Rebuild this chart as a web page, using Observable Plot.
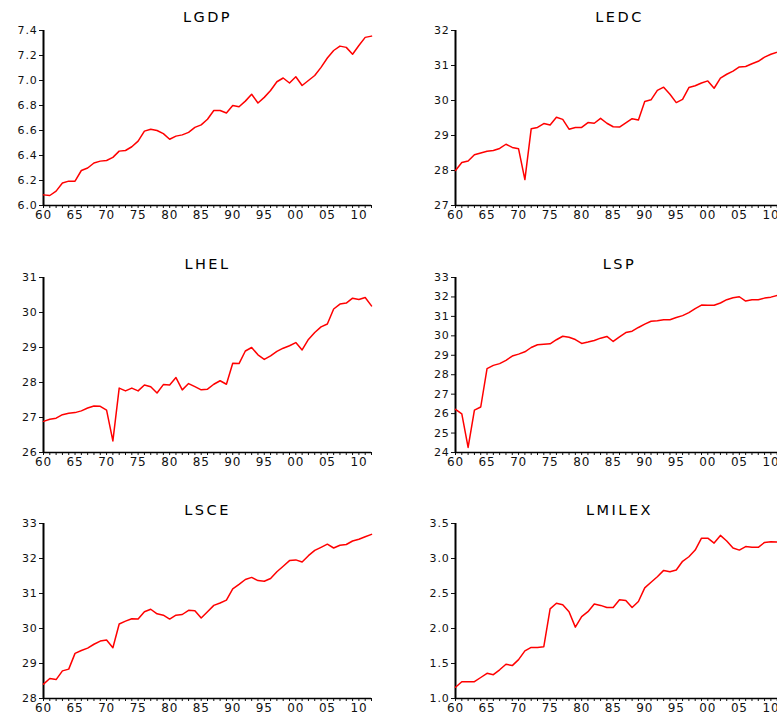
<!DOCTYPE html>
<html>
<head>
<meta charset="utf-8">
<script src="https://cdn.jsdelivr.net/npm/d3@7"></script>
<script src="https://cdn.jsdelivr.net/npm/@observablehq/plot@0.6"></script>
<style>
  html, body { margin: 0; padding: 0; background: #fff; }
  #wrap { position: relative; width: 777px; height: 719px; overflow: hidden; background: #fff; }
  .panel { position: absolute; }
  .panel svg { max-width: none !important; }
</style>
</head>
<body>
<div id="wrap"></div>
<script>
const years = d3.range(1960, 2013);

const lgdp = [6.085,6.08,6.115,6.18,6.195,6.195,6.28,6.30,6.34,6.355,6.36,6.385,6.435,6.44,6.47,6.515,6.595,6.61,6.60,6.575,6.53,6.555,6.565,6.585,6.625,6.645,6.69,6.76,6.76,6.74,6.80,6.79,6.835,6.89,6.82,6.865,6.92,6.99,7.02,6.98,7.03,6.96,7.00,7.04,7.105,7.18,7.24,7.275,7.265,7.21,7.28,7.345,7.355];

const ledc = [28.0,28.23,28.27,28.45,28.50,28.55,28.57,28.63,28.75,28.66,28.62,27.74,29.19,29.23,29.34,29.30,29.52,29.46,29.18,29.23,29.23,29.37,29.35,29.49,29.35,29.25,29.24,29.36,29.48,29.44,29.97,30.02,30.29,30.38,30.18,29.94,30.03,30.37,30.42,30.50,30.56,30.35,30.64,30.75,30.84,30.96,30.97,31.05,31.12,31.24,31.32,31.38,31.45];

const lhel = [26.89,26.95,26.98,27.08,27.12,27.14,27.19,27.27,27.33,27.32,27.21,26.33,27.84,27.76,27.84,27.76,27.93,27.88,27.70,27.94,27.93,28.14,27.79,27.97,27.88,27.79,27.81,27.95,28.05,27.95,28.55,28.54,28.90,29.00,28.79,28.66,28.76,28.89,28.98,29.05,29.14,28.93,29.23,29.43,29.59,29.67,30.10,30.24,30.27,30.41,30.37,30.43,30.19];

const lsp = [26.22,25.99,24.26,26.18,26.34,28.31,28.48,28.57,28.74,28.96,29.06,29.18,29.40,29.54,29.57,29.59,29.80,29.98,29.93,29.81,29.61,29.68,29.76,29.88,29.97,29.71,29.95,30.17,30.24,30.43,30.60,30.75,30.78,30.83,30.83,30.94,31.04,31.19,31.40,31.58,31.57,31.57,31.69,31.86,31.96,32.01,31.79,31.86,31.86,31.94,31.99,32.08,32.12];

const lsce = [28.41,28.57,28.54,28.79,28.84,29.29,29.37,29.44,29.55,29.64,29.67,29.45,30.13,30.21,30.28,30.27,30.48,30.55,30.42,30.38,30.27,30.38,30.40,30.52,30.51,30.30,30.48,30.66,30.73,30.81,31.13,31.26,31.40,31.46,31.37,31.35,31.43,31.62,31.78,31.94,31.96,31.90,32.08,32.23,32.32,32.41,32.30,32.38,32.40,32.50,32.55,32.62,32.69];

const lmilex = [1.16,1.24,1.24,1.24,1.30,1.36,1.34,1.41,1.49,1.47,1.555,1.68,1.73,1.73,1.74,2.28,2.36,2.34,2.24,2.02,2.17,2.24,2.35,2.33,2.30,2.30,2.41,2.40,2.30,2.385,2.58,2.66,2.74,2.83,2.81,2.835,2.96,3.025,3.12,3.29,3.29,3.22,3.33,3.25,3.15,3.12,3.17,3.16,3.16,3.23,3.24,3.235,3.24];

const titles = ["LGDP","LEDC","LHEL","LSP","LSCE","LMILEX"];
const seriesList = [lgdp, ledc, lhel, lsp, lsce, lmilex];
const domains = [[6.0,7.4],[27,32],[26,31],[24,33],[28,33],[1.0,3.5]];
const yTicks = [
  [6.0,6.2,6.4,6.6,6.8,7.0,7.2,7.4],
  [27,28,29,30,31,32],
  [26,27,28,29,30,31],
  [24,25,26,27,28,29,30,31,32,33],
  [28,29,30,31,32,33],
  [1.0,1.5,2.0,2.5,3.0,3.5]
];
const yFormats = [d3.format(".1f"), d3.format("d"), d3.format("d"), d3.format("d"), d3.format("d"), d3.format(".1f")];

const rowTops = [0, 246.5, 493];
const wrap = document.getElementById("wrap");

function panel(i) {
  const col = i % 2, row = Math.floor(i / 2);
  const marginLeft = col === 0 ? 43 : 67;
  const plotW = 328;
  const marginRight = 14;
  const width = marginLeft + plotW + marginRight;
  const data = years.map((y, k) => ({year: y, v: seriesList[i][k]}));
  const chart = Plot.plot({
    width,
    height: 225,
    marginLeft,
    marginRight,
    marginTop: 30,
    marginBottom: 20,
    x: {domain: [1960, 2012]},
    y: {domain: domains[i]},
    style: {fontFamily: "'DejaVu Sans', sans-serif", fontSize: "11px", color: "#111", background: "transparent", overflow: "visible", maxWidth: "none"},
    marks: [
      Plot.axisX({
        ticks: years, tickSize: 3, tickPadding: 2, label: null, fontSize: 12,
        tickFormat: d => d % 5 === 0 ? String(d % 100).padStart(2, "0") : ""
      }),
      Plot.axisY({ticks: yTicks[i], tickSize: 4, tickPadding: 2, label: null, tickFormat: yFormats[i]}),
      Plot.ruleY([domains[i][0]], {stroke: "black", strokeWidth: 1.5}),
      Plot.ruleX([1960], {stroke: "black", strokeWidth: 2}),
      Plot.line(data, {x: "year", y: "v", stroke: "#ff0000", strokeWidth: 1.5}),
      Plot.text([titles[i]], {frameAnchor: "top", dy: -19, fontSize: 14.5, text: d => d, fill: "black"})
    ]
  });
  chart.style.maxWidth = "none";
  chart.querySelectorAll('g[aria-label="text"] text').forEach(t => t.style.letterSpacing = "2.5px");
  chart.querySelectorAll('g[aria-label="x-axis tick label"] text, g[aria-label="y-axis tick label"] text').forEach(t => t.style.letterSpacing = "0.8px");
  const div = document.createElement("div");
  div.className = "panel";
  div.style.left = (col === 0 ? 0 : 388) + "px";
  div.style.top = rowTops[row] + "px";
  div.style.width = width + "px";
  div.appendChild(chart);
  wrap.appendChild(div);
}

for (let i = 0; i < 6; i++) panel(i);
</script>
</body>
</html>
